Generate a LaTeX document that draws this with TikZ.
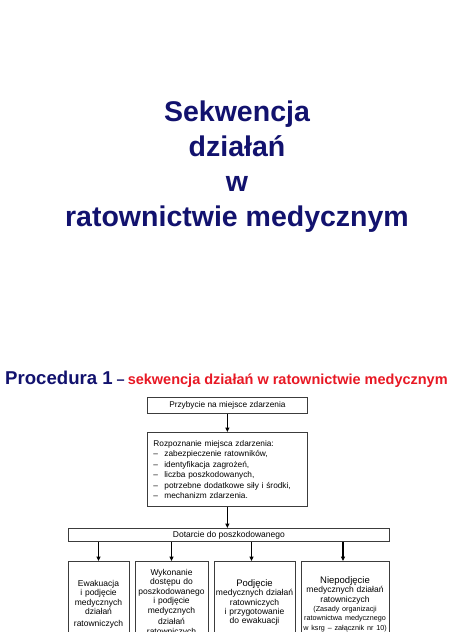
\documentclass[tikz,border=0pt]{standalone}
\usepackage{fontspec}
\setmainfont{Liberation Sans}
\usetikzlibrary{arrows.meta}
\definecolor{navy}{RGB}{18,18,110}
\definecolor{redt}{RGB}{232,24,36}
\definecolor{boxc}{RGB}{60,60,60}
\begin{document}
\begin{tikzpicture}[x=1pt,y=-1pt,
  ttl/.style={font=\fontsize{28.5}{34}\selectfont\bfseries, text=navy, inner sep=0pt, anchor=base},
  boxs/.style={draw=boxc, line width=0.8pt, inner sep=0pt},
  boxtxt/.style={font=\fontsize{8.3}{10.5}\selectfont},
  botbox/.style={draw=boxc, line width=0.8pt, anchor=north, inner xsep=1pt, align=center, font=\fontsize{8.5}{9.4}\selectfont},
  arr/.style={-{Triangle[length=4.5pt,width=4pt]}, line width=1.2pt, black}]
\useasboundingbox (0,0) rectangle (474,632);
\fill[white] (0,0) rectangle (474,632);
\clip (0,0) rectangle (474,632);
% title
\node[ttl] (t1) at (237,121.5) {Sekwencja};
\node[ttl] (t2) at (237,156.5) {działań};
\node[ttl] (t3) at (237,191.5) {w};
\node[ttl] (t4) at (237,226.5) {ratownictwie medycznym};
% procedure heading
\node[anchor=base west, inner sep=0pt] (proc) at (5,384)
  {{\fontsize{18.6}{22}\selectfont\bfseries\color{navy}Procedura 1}\hspace{4pt}{\fontsize{14.5}{17}\selectfont\bfseries\color{navy}–}\hspace{3pt}{\fontsize{14.5}{17}\selectfont\bfseries\color{redt}sekwencja działań w ratownictwie medycznym}};
% boxes
\node[boxs, boxtxt, minimum width=160pt, minimum height=16pt, anchor=north west] (b1) at (147,397) {Przybycie na miejsce zdarzenia};
\node[boxs, boxtxt, minimum width=160pt, minimum height=74pt, anchor=north west, align=left, text width=148pt, inner xsep=6pt] (b2) at (147,432)
  {Rozpoznanie miejsca zdarzenia:\\
   \makebox[11pt][l]{–}zabezpieczenie ratowników,\\
   \makebox[11pt][l]{–}identyfikacja zagrożeń,\\
   \makebox[11pt][l]{–}liczba poszkodowanych,\\
   \makebox[11pt][l]{–}potrzebne dodatkowe siły i środki,\\
   \makebox[11pt][l]{–}mechanizm zdarzenia.};
\node[boxs, font=\fontsize{8.5}{10}\selectfont, minimum width=321pt, minimum height=13pt, anchor=north west] (b3) at (68,528) {Dotarcie do poszkodowanego};
\node[botbox, minimum width=61pt, text width=59pt, inner ysep=19pt] (bA) at (98.5,561)
  {Ewakuacja\\ i podjęcie\\ medycznych\\ działań\\[2pt] ratowniczych};
\node[botbox, minimum width=73pt, text width=71pt, inner ysep=8pt] (bB) at (171.5,561)
  {Wykonanie\\ dostępu do\\ poszkodowanego\\ i podjęcie\\ medycznych\\[1.5pt] działań\\[1.5pt] ratowniczych};
\node[botbox, minimum width=81pt, text width=79pt, inner ysep=18pt] (bC) at (254.5,561)
  {{\fontsize{9.5}{9.4}\selectfont Podjęcie}\\ medycznych działań\\ ratowniczych\\ i przygotowanie\\ do ewakuacji};
\node[botbox, minimum width=88pt, text width=86pt, inner ysep=15pt] (bD) at (345,561)
  {{\fontsize{9.5}{9.4}\selectfont Niepodjęcie}\\ medycznych działań\\ ratowniczych\\
   {\fontsize{7.2}{8.8}\selectfont (Zasady organizacji}\\
   {\fontsize{7.2}{8.8}\selectfont ratownictwa medycznego}\\
   {\fontsize{7.2}{8.8}\selectfont w ksrg – załącznik nr 10)}};
% connectors
\draw[arr] (b1.south) -- (b2.north);
\draw[arr] (b2.south) -- (b2.south |- b3.north);
\draw[arr] (b3.south -| bA.north) -- (bA.north);
\draw[arr] (b3.south -| bB.north) -- (bB.north);
\draw[arr] ([xshift=-3pt]b3.south -| bC.north) -- ([xshift=-3pt]bC.north);
\draw[arr] ([xshift=-2pt]b3.south -| bD.north) -- ([xshift=-2pt]bD.north);
\end{tikzpicture}
\end{document}
